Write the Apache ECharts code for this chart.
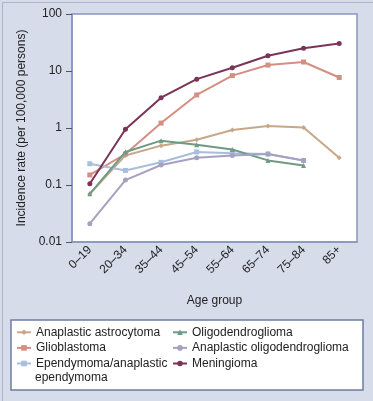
<!DOCTYPE html>
<html><head><meta charset="utf-8">
<script src="https://cdn.jsdelivr.net/npm/echarts@6/dist/echarts.min.js"></script>
<style>html,body{margin:0;padding:0;background:#d6dcea;}#c{width:373px;height:401px;}</style>
</head><body><div id="c"></div>
<script>
var categories = ['0–19','20–34','35–44','45–54','55–64','65–74','75–84','85+'];
var yTicks = ['0.01','0.1','1','10','100'];
var astrocytoma = [0.07, 0.33, 0.49, 0.62, 0.92, 1.08, 1.02, 0.30];
var glioblastoma = [0.15, 0.35, 1.22, 3.8, 8.3, 12.7, 14.4, 7.7];
var ependymoma = [0.236, 0.18, 0.25, 0.38, 0.36, 0.35, 0.27];
var oligodendroglioma = [0.07, 0.38, 0.6, 0.51, 0.42, 0.27, 0.22];
var anaplasticOligo = [0.021, 0.122, 0.224, 0.30, 0.33, 0.35, 0.27];
var meningioma = [0.105, 0.95, 3.4, 7.2, 11.4, 18.5, 25, 30.5];

var names = ['Anaplastic astrocytoma','Glioblastoma','Ependymoma/anaplastic','Oligodendroglioma','Anaplastic oligodendroglioma','Meningioma'];
var colors = ['#c6a888','#d48e82','#a9bedb','#6f9a84','#a4a2c0','#7b3356'];
var symbols = ['diamond','rect','rect','triangle','circle','circle'];
var datas = [astrocytoma, glioblastoma, ependymoma, oligodendroglioma, anaplasticOligo, meningioma];

var chart = echarts.init(document.getElementById('c'), null, {renderer:'canvas'});
var txt = '#222';
var font = 'Liberation Sans, Arial, sans-serif';
var series = names.map(function(n,i){
  return {name:n, type:'line', data:datas[i], color:colors[i], symbol:symbols[i], symbolSize:5,
    lineStyle:{width:2, color:colors[i]}, itemStyle:{color:colors[i]}, z: 2 + i};
});
var legendCommon = {orient:'vertical', top:324.5, padding:0, itemWidth:14, itemHeight:7, itemGap:0,
  itemStyle:{borderWidth:0},
  textStyle:{fontSize:12, color:txt, fontFamily:font, lineHeight:15.6}};
chart.setOption({
  animation:false,
  backgroundColor:'#d6dcea',
  textStyle:{fontFamily:font},
  grid:{left:72, right:16, top:14, bottom:159, show:true, backgroundColor:'#fff', borderColor:'#8696bd', borderWidth:1.5},
  xAxis:{type:'category', data:categories, boundaryGap:true,
    name:'Age group', nameLocation:'middle', nameGap:53, nameTextStyle:{fontSize:12, color:txt},
    axisLine:{lineStyle:{color:'#8696bd', width:1.5}},
    axisTick:{alignWithLabel:true, length:6, lineStyle:{color:'#555'}},
    axisLabel:{rotate:45, fontSize:12, color:txt, margin:6}},
  yAxis:{type:'log', logBase:10, min:0.01, max:100,
    name:'Incidence rate (per 100,000 persons)', nameLocation:'middle', nameGap:39,
    nameTextStyle:{fontSize:12, color:txt},
    axisLine:{show:true, lineStyle:{color:'#8696bd', width:1.5}},
    axisTick:{show:true, length:6, lineStyle:{color:'#555'}},
    splitLine:{show:false},
    axisLabel:{fontSize:12, color:txt, margin:10, formatter:function(v){
      var k = Math.round(Math.log10(v)) + 2; return yTicks[k] || '';}}},
  legend:[
    Object.assign({left:16, data:[names[0],names[1],names[2]]}, legendCommon),
    Object.assign({left:172, data:[names[3],names[4],names[5]]}, legendCommon)
  ],
  graphic:[
    {type:'rect', left:0, top:0, shape:{x:0,y:0,width:372,height:400}, style:{fill:'none', stroke:'#aab4cf', lineWidth:1}, silent:true, z:-10},
    {type:'rect', shape:{x:11,y:320,width:352,height:70}, style:{fill:'#fff', stroke:'#6c7ca3', lineWidth:1.5}, z:-1},
    {type:'text', x:35, y:378, style:{text:'ependymoma', fontSize:12, fill:txt, font:'12px Liberation Sans, Arial, sans-serif', verticalAlign:'middle'}, z:10}
  ],
  series:series
});
</script></body></html>
